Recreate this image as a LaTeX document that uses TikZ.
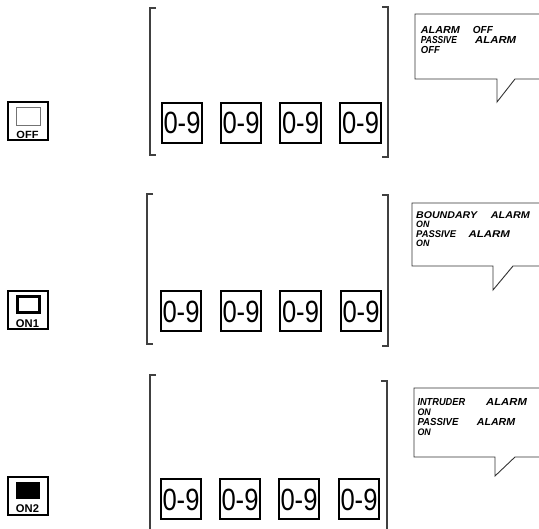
\documentclass[tikz,border=0pt]{standalone}
\usepackage{fontspec}
\setmainfont{Liberation Sans}
\usepackage{graphicx}
\newcommand{\fitbox}[3]{\resizebox{#1pt}{#2pt}{\raisebox{0pt}[0.716em][0pt]{#3}}}
\tikzset{
  brk/.style={draw=black!75, line width=1.2pt},
  bub/.style={draw=black!80, line width=0.9pt},
  digitbox/.style={draw, line width=1.9pt, minimum width=40.5pt, minimum height=40.5pt, inner sep=0pt},
  bubtext/.style={inner sep=0pt, anchor=north west, font=\bfseries\itshape},
  iconbox/.style={draw, line width=2pt, minimum width=40pt, minimum height=38pt, inner sep=0pt},
  iconlabel/.style={inner sep=0pt, font=\bfseries},
}
\begin{document}
\begin{tikzpicture}[x=1pt,y=-1pt]
\useasboundingbox (0,0) rectangle (539,529);
\clip (0,0) rectangle (539,529);

% ---------- brackets ----------
\draw[brk] (156,8) -- (150,8) -- (150,155) -- (156,155);
\draw[brk] (382,7) -- (388,7) -- (388,157) -- (382,157);
\draw[brk] (153,194) -- (147,194) -- (147,344) -- (153,344);
\draw[brk] (382,195) -- (388,195) -- (388,346) -- (382,346);
\draw[brk] (156,375) -- (150,375) -- (150,535);
\draw[brk] (381,381) -- (387,381) -- (387,535);

% ---------- digit boxes ----------
\foreach \r/\yy/\xa/\xb/\xc/\xd in {1/123/182/241/300.5/360.5, 2/311/181/241/300.5/361, 3/499/181/240/299/359}{
  \node[digitbox] (d\r a) at (\xa,\yy) {\fitbox{37}{22}{0-9}};
  \node[digitbox] (d\r b) at (\xb,\yy) {\fitbox{37}{22}{0-9}};
  \node[digitbox] (d\r c) at (\xc,\yy) {\fitbox{37}{22}{0-9}};
  \node[digitbox] (d\r d) at (\xd,\yy) {\fitbox{37}{22}{0-9}};
}

% ---------- icons ----------
\node[iconbox] (ic1) at (27.5,121.5) {};
\node[draw=black!55, line width=0.8pt, minimum width=24pt, minimum height=18.5pt, inner sep=0pt] (ic1in) at (28.3,116.3) {};
\node[iconlabel] (ic1l) at (27.5,134.5) {\fitbox{22}{7.5}{OFF}};

\node[iconbox] (ic2) at (27.5,310.5) {};
\node[draw, line width=3pt, minimum width=22pt, minimum height=15.5pt, inner sep=0pt] (ic2in) at (28,304.5) {};
\node[iconlabel] (ic2l) at (27.5,323.5) {\fitbox{23}{8}{ON1}};

\node[iconbox] (ic3) at (27.5,496.5) {};
\node[fill=black, minimum width=24.3pt, minimum height=17.6pt, inner sep=0pt] (ic3in) at (28,490.5) {};
\node[iconlabel] (ic3l) at (27.5,509) {\fitbox{23}{8}{ON2}};

% ---------- speech bubbles ----------
\draw[bub] (545,14) -- (415,14) -- (415,79) -- (497,79) -- (497,102) -- (515,79) -- (545,79);
\draw[bub] (545,203) -- (412,203) -- (412,266) -- (493,266) -- (493,290) -- (513,266) -- (545,266);
\draw[bub] (545,388) -- (414,388) -- (414,457) -- (495,457) -- (495,476) -- (515,457) -- (545,457);

% bubble 1
\node[bubtext] (t1a) at (420.7,26) {\fitbox{39}{7.3}{ALARM}};
\node[bubtext] (t1b) at (472.7,26) {\fitbox{20}{7.3}{OFF}};
\node[bubtext] (t1c) at (420.7,36) {\fitbox{36}{7.3}{PASSIVE}};
\node[bubtext] (t1d) at (475,36) {\fitbox{41}{7.3}{ALARM}};
\node[bubtext] (t1e) at (420.7,46) {\fitbox{19}{7.3}{OFF}};

% bubble 2
\node[bubtext] (t2a) at (416,211.5) {\fitbox{61}{7}{BOUNDARY}};
\node[bubtext] (t2b) at (490.7,211.5) {\fitbox{39}{7}{ALARM}};
\node[bubtext] (t2c) at (416,220.8) {\fitbox{13.3}{6.6}{ON}};
\node[bubtext] (t2d) at (416,230) {\fitbox{40}{7}{PASSIVE}};
\node[bubtext] (t2e) at (468.3,230) {\fitbox{41.5}{7}{ALARM}};
\node[bubtext] (t2f) at (416,239.4) {\fitbox{13.3}{6.6}{ON}};

% bubble 3
\node[bubtext] (t3a) at (417.3,398.3) {\fitbox{47.7}{7.3}{INTRUDER}};
\node[bubtext] (t3b) at (486,398.3) {\fitbox{40.7}{7.3}{ALARM}};
\node[bubtext] (t3c) at (417.3,408.5) {\fitbox{13.3}{6.8}{ON}};
\node[bubtext] (t3d) at (417.3,418.3) {\fitbox{41}{7.3}{PASSIVE}};
\node[bubtext] (t3e) at (476.7,418.3) {\fitbox{38.3}{7.3}{ALARM}};
\node[bubtext] (t3f) at (417.3,428.3) {\fitbox{13.3}{6.8}{ON}};
\end{tikzpicture}
\end{document}
